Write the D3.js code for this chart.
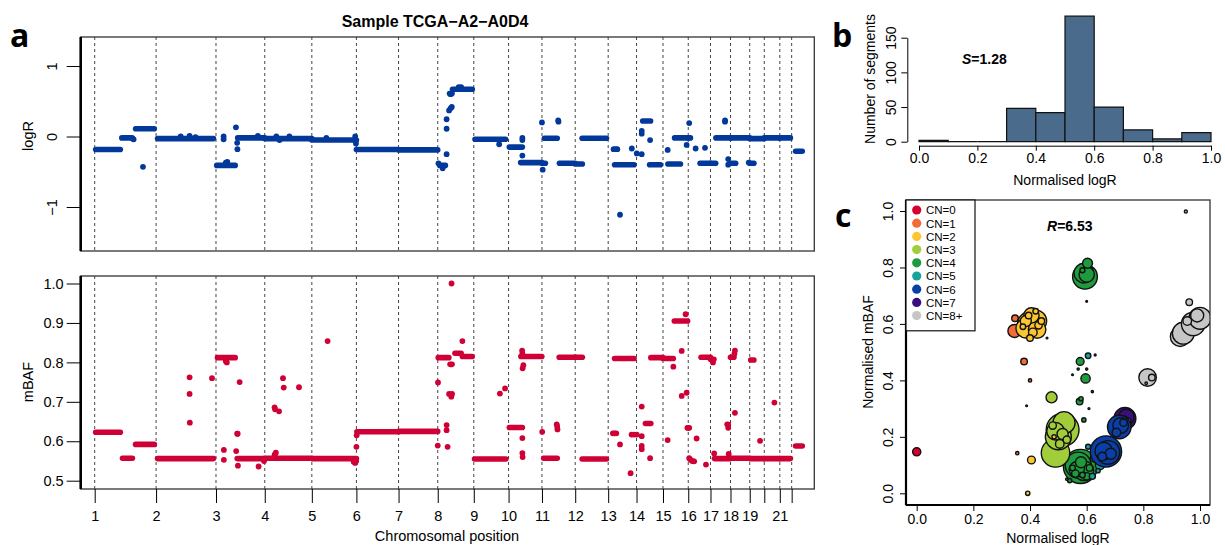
<!DOCTYPE html>
<html lang="en">
<head>
<meta charset="utf-8">
<title>Sample TCGA-A2-A0D4</title>
<style>
  body { margin: 0; background: #fff; }
  svg { display: block; }
  text { font-family: "Liberation Sans", Arial, sans-serif; fill: #000; }
</style>
</head>
<body>
<svg id="fig" width="1225" height="545"></svg>

<script src="https://d3js.org/d3.v7.min.js"></script>
<script>
// chromosome lengths (Mb, hg19) and the tick labels shown under them
const chromLen = [249.25, 243.20, 198.02, 191.15, 180.92, 171.12, 159.14, 146.36, 141.21, 135.53, 135.01,
  133.85, 115.17, 107.35, 102.53, 90.35, 81.20, 78.08, 59.13, 63.03, 48.13, 51.30];
const chromTickLabels = ['1', '2', '3', '4', '5', '6', '7', '8', '9', '10', '11', '12', '13', '14', '15',
  '16', '17', '18', '19', '', '21', ''];

// logR segments: [chrom, start Mb, end Mb, value]
const logRSegs = [
  [1, 4, 104, -0.185], [1, 110, 152, -0.02], [1, 166, 242, 0.11],
  [2, 6, 233, -0.03],
  [3, 3, 78, -0.41], [3, 88, 198, -0.02],
  [4, 0, 191, -0.03], [5, 0, 181, -0.05],
  [6, 0, 171, -0.185], [7, 0, 159, -0.19],
  [8, 8, 31, -0.41], [8, 48, 58, 0.61], [8, 60, 140, 0.67],
  [9, 5, 129, -0.04],
  [10, 3, 56, -0.15], [10, 49, 135, -0.37], [11, 0, 14, -0.38],
  [11, 10, 62, -0.025], [11, 71, 135, -0.38], [12, 0, 29, -0.39],
  [12, 28, 127, -0.025],
  [13, 26, 105, -0.40],
  [14, 25, 57, 0.22], [14, 53, 97, -0.40],
  [15, 20, 71, -0.39], [15, 47, 103, -0.02], [16, 0, 9, -0.02],
  [16, 48, 90, -0.38], [17, 0, 21, -0.38],
  [17, 22, 81, -0.02], [18, 0, 78, -0.02], [19, 0, 59, -0.03], [20, 0, 63, -0.02], [21, 0, 43, -0.02],
  [18, 2, 21, -0.38], [19, 0, 17, -0.38],
  [22, 16, 43, -0.21],
];
// single logR probes off the segments: [chrom, pos Mb, value]
const logRDots = [
  [1, 196, -0.43], [1, 154, -0.03], [1, 158, -0.04],
  [2, 100, 0.0], [2, 136, 0.01], [2, 160, -0.01],
  [3, 40, -0.37], [3, 46, -0.36], [3, 31, 0.0], [3, 31, -0.04], [3, 81, 0.13], [3, 86, -0.09], [3, 87, -0.18], [3, 170, 0.01],
  [4, 47, 0.0], [4, 100, 0.0], [4, 60, -0.05],
  [5, 59, -0.02], [5, 176, 0.0], [5, 178, -0.06], [5, 179, -0.1],
  [8, 3, -0.38], [8, 20, -0.45], [8, 36, -0.25], [8, 36, 0.11], [8, 36, 0.245], [8, 46, 0.37], [8, 52, 0.40],
  [8, 57, 0.42], [8, 85, 0.70], [8, 95, 0.70], [8, 52, 0.60],
  [9, 103, -0.11],
  [10, 56, -0.02], [10, 56, -0.05], [10, 56, -0.27],
  [11, 3, -0.47], [11, 0, 0.20], [11, 66, 0.23], [11, 67, 0.21],
  [13, 22, -0.18], [13, 30, -0.18], [13, 37, -0.18], [13, 48, -1.11], [13, 96, -0.17],
  [14, 1, -0.24], [14, 21, 0.08], [14, 21, 0.04], [14, 55, -0.05], [14, 21, -0.25],
  [15, 19, -0.19], [16, 4, 0.19], [15, 96, -0.12],
  [16, 30, -0.17], [16, 68, -0.16],
  [17, 59, 0.23], [17, 59, 0.21], [17, 72, -0.32], [17, 72, -0.40],
  [18, 74, -0.37],
];

// mBAF segments and single probes
const bafSegs = [
  [1, 4, 104, 0.623], [1, 113, 153, 0.557], [1, 166, 242, 0.592],
  [2, 6, 233, 0.556],
  [3, 6, 78, 0.812], [3, 86, 198, 0.556],
  [4, 0, 191, 0.557], [5, 0, 181, 0.556],
  [6, 2, 171, 0.624], [7, 0, 159, 0.625],
  [8, 2, 45, 0.812], [8, 50, 58, 0.795], [8, 70, 95, 0.823], [8, 100, 140, 0.815],
  [9, 3, 130, 0.555],
  [10, 3, 56, 0.635], [10, 50, 135, 0.815],
  [11, 7, 62, 0.557], [11, 70, 135, 0.813], [12, 0, 29, 0.813],
  [12, 28, 127, 0.555],
  [13, 26, 105, 0.810],
  [14, 36, 58, 0.645], [14, 58, 107, 0.812], [15, 0, 42, 0.81],
  [15, 46, 100, 0.905],
  [16, 52, 90, 0.813], [17, 0, 14, 0.808],
  [17, 16, 81, 0.556], [18, 0, 78, 0.557], [19, 0, 59, 0.556], [20, 0, 63, 0.556], [21, 0, 43, 0.556],
  [18, 0, 14, 0.813], [19, 4, 17, 0.806],
  [22, 16, 43, 0.588],
];
const bafDots = [
  [2, 136, 0.762], [2, 136, 0.720], [2, 137, 0.647], [2, 227, 0.760],
  [3, 40, 0.803], [3, 44, 0.800], [3, 96, 0.750], [3, 86, 0.619], [3, 88, 0.619], [3, 32, 0.578], [3, 32, 0.553],
  [3, 82, 0.575], [3, 89, 0.538], [3, 173, 0.536], [3, 195, 0.55],
  [4, 40, 0.686], [4, 42, 0.681], [4, 58, 0.676], [4, 74, 0.760], [4, 77, 0.736], [4, 139, 0.737], [4, 40, 0.566], [4, 45, 0.571],
  [5, 64, 0.854], [5, 170, 0.548], [5, 176, 0.545], [5, 180, 0.55],
  [6, 1, 0.615], [6, 0, 0.586],
  [8, 1, 0.749], [8, 36, 0.641], [8, 36, 0.628], [8, 0, 0.589], [8, 40, 0.586], [8, 46, 0.72], [8, 55, 0.713],
  [8, 58, 0.72], [8, 100, 0.854], [8, 56, 1.0],
  [9, 106, 0.721], [9, 127, 0.734],
  [10, 55, 0.83], [10, 56, 0.822], [10, 60, 0.793], [10, 57, 0.785], [10, 56, 0.608], [10, 56, 0.57], [10, 57, 0.56],
  [11, 1, 0.624], [11, 60, 0.643], [11, 62, 0.637], [11, 63, 0.630],
  [13, 19, 0.620], [13, 26, 0.62], [13, 33, 0.62], [13, 48, 0.592], [13, 91, 0.519], [13, 95, 0.617], [13, 105, 0.617], [14, 1, 0.617],
  [14, 21, 0.688], [14, 21, 0.613], [14, 21, 0.588], [14, 21, 0.58], [14, 55, 0.557],
  [15, 42, 0.789], [15, 76, 0.829], [15, 19, 0.603], [15, 76, 0.715], [15, 96, 0.723], [15, 92, 0.922],
  [16, 0, 0.634], [16, 4, 0.634], [15, 99, 0.634], [16, 34, 0.607], [16, 4, 0.557], [16, 10, 0.553], [16, 16, 0.55],
  [16, 24, 0.549], [16, 72, 0.541],
  [17, 10, 0.80], [17, 15, 0.569], [17, 72, 0.642], [17, 68, 0.643], [17, 72, 0.634], [18, 18, 0.672], [17, 74, 0.568],
  [18, 18, 0.83], [18, 16, 0.822],
  [19, 42, 0.601], [20, 41, 0.698],
];

// panel b histogram
const histBreaks = [0, 0.1, 0.2, 0.3, 0.4, 0.5, 0.6, 0.7, 0.8, 0.9, 1.0];
const histCounts = [2, 0, 0, 48, 42, 181, 50, 17, 4, 13];

// panel c: segments as [normalised logR, normalised mBAF, size Mb, copy number]
const cnLabels = ['CN=0', 'CN=1', 'CN=2', 'CN=3', 'CN=4', 'CN=5', 'CN=6', 'CN=7', 'CN=8+'];
const cnColours = ['#d5002c', '#f26b38', '#fcc630', '#a2cd3a', '#1e9b3c', '#17a39b', '#0a3fa7', '#3b0e7d', '#c6c6c6'];
const segPoints = [
  [0.0, 0.147, 11, 0],
  [0.345, 0.575, 28, 1], [0.347, 0.62, 7, 1], [0.379, 0.467, 7, 1], [0.355, 0.142, 1.8, 1], [0.40, 0.40, 1.8, 1],
  [0.40, 0.60, 100, 2], [0.42, 0.61, 78, 2], [0.385, 0.585, 63, 2], [0.425, 0.58, 50, 2], [0.405, 0.63, 38, 2],
  [0.385, 0.61, 20, 2], [0.41, 0.57, 12, 2], [0.43, 0.595, 9, 2], [0.395, 0.63, 7, 2], [0.42, 0.645, 5, 2],
  [0.40, 0.55, 7, 2], [0.375, 0.59, 5, 2], [0.44, 0.61, 7, 2], [0.405, 0.118, 10, 2], [0.392, 0.0, 3, 2],
  [0.388, 0.31, 0.5, 2], [0.46, 0.55, 0.5, 2],
  [0.476, 0.34, 20, 3],
  [0.578, 0.095, 190, 4], [0.57, 0.10, 110, 4], [0.59, 0.08, 63, 4], [0.565, 0.085, 38, 4], [0.58, 0.11, 20, 4],
  [0.56, 0.07, 9, 4], [0.60, 0.06, 9, 4], [0.585, 0.065, 5, 4], [0.55, 0.09, 5, 4], [0.61, 0.09, 7, 4],
  [0.54, 0.045, 3, 4], [0.53, 0.05, 1, 4],
  [0.515, 0.225, 176, 3], [0.49, 0.143, 132, 3], [0.50, 0.20, 110, 3], [0.52, 0.25, 80, 3], [0.49, 0.22, 50, 3],
  [0.515, 0.21, 20, 3], [0.505, 0.175, 12, 3], [0.48, 0.24, 9, 3], [0.53, 0.19, 9, 3], [0.485, 0.20, 3, 2],
  [0.594, 0.767, 100, 4], [0.59, 0.78, 63, 4], [0.60, 0.775, 38, 4], [0.603, 0.815, 16, 4], [0.585, 0.79, 4, 4],
  [0.577, 0.467, 10, 4], [0.596, 0.407, 14, 4], [0.575, 0.325, 7, 4], [0.59, 0.26, 3, 4], [0.58, 0.335, 3, 4],
  [0.63, 0.49, 0.6, 4], [0.60, 0.44, 0.8, 4], [0.57, 0.44, 0.8, 4], [0.62, 0.36, 0.8, 4], [0.60, 0.68, 0.5, 4],
  [0.55, 0.42, 0.5, 4], [0.608, 0.30, 0.6, 4],
  [0.605, 0.487, 5, 5], [0.647, 0.10, 14, 5], [0.627, 0.125, 10, 5], [0.605, 0.165, 4, 5], [0.62, 0.06, 6, 5], [0.64, 0.08, 3, 5],
  [0.735, 0.265, 78, 7], [0.74, 0.27, 40, 7], [0.73, 0.26, 12, 7], [0.745, 0.255, 6, 8],
  [0.715, 0.235, 90, 6], [0.72, 0.24, 40, 6], [0.705, 0.215, 12, 6], [0.73, 0.25, 9, 6],
  [0.668, 0.148, 160, 6], [0.675, 0.145, 90, 6], [0.66, 0.15, 50, 6], [0.685, 0.14, 20, 6], [0.655, 0.13, 12, 6],
  [0.93, 0.555, 63, 8], [0.941, 0.567, 78, 8], [0.976, 0.60, 90, 8], [1.0, 0.62, 78, 8], [0.955, 0.61, 12, 8],
  [0.99, 0.63, 28, 8], [0.815, 0.41, 50, 8], [0.83, 0.41, 7, 8], [0.962, 0.677, 7, 8], [0.95, 0.998, 1.5, 8],
  [0.81, 0.39, 1, 8],
];

const svg = d3.select('#fig');
const font = '"Liberation Sans", Arial, sans-serif';

// ---------- panel a ----------
const boxA = { x0: 80.7, x1: 814.3 };
const topY = [37, 251];
const botY = [276, 489];
const chromStart = [0, ...d3.cumsum(chromLen)].slice(0, chromLen.length);
const gpos = (c, mb) => chromStart[c - 1] + mb;

const xA = d3.scaleLinear().domain([0, d3.sum(chromLen)]).range([94.7, 804.3]);
const yR = d3.scaleLinear().domain([-1, 1]).range([207, 66]);
const yB = d3.scaleLinear().domain([0.5, 1]).range([480.7, 283.5]);

const defs = svg.append('defs');
[['clipTop', topY], ['clipBot', botY]].forEach(([id, ys]) => {
  defs.append('clipPath').attr('id', id).append('rect')
    .attr('x', boxA.x0).attr('y', ys[0]).attr('width', boxA.x1 - boxA.x0).attr('height', ys[1] - ys[0]);
});

function drawTrack(ys, clipId, y, segs, dots, colour) {
  const g = svg.append('g').attr('clip-path', `url(#${clipId})`);
  g.selectAll('line.chr').data(chromStart).join('line')
    .attr('x1', d => xA(d)).attr('x2', d => xA(d))
    .attr('y1', ys[0]).attr('y2', ys[1])
    .attr('stroke', '#444').attr('stroke-width', 1).attr('stroke-dasharray', '3,3');
  g.selectAll('line.seg').data(segs).join('line')
    .attr('x1', d => xA(gpos(d[0], d[1]))).attr('x2', d => xA(gpos(d[0], d[2])))
    .attr('y1', d => y(d[3])).attr('y2', d => y(d[3]))
    .attr('stroke', colour).attr('stroke-width', 5.6).attr('stroke-linecap', 'round');
  g.selectAll('circle').data(dots).join('circle')
    .attr('cx', d => xA(gpos(d[0], d[1]))).attr('cy', d => y(d[2]))
    .attr('r', 2.9).attr('fill', colour);
  // frame, heavier on the left
  svg.append('rect').attr('x', boxA.x0).attr('y', ys[0])
    .attr('width', boxA.x1 - boxA.x0).attr('height', ys[1] - ys[0])
    .attr('fill', 'none').attr('stroke', '#333').attr('stroke-width', 1.3);
  svg.append('line').attr('x1', boxA.x0).attr('x2', boxA.x0).attr('y1', ys[0]).attr('y2', ys[1])
    .attr('stroke', '#000').attr('stroke-width', 2.6);
}
drawTrack(topY, 'clipTop', yR, logRSegs, logRDots, '#03389b');
drawTrack(botY, 'clipBot', yB, bafSegs, bafDots, '#cf0035');

function styleAxis(g, size) {
  g.attr('font-family', font).attr('font-size', size);
  g.selectAll('.tick line').attr('stroke', '#000');
  g.selectAll('.tick text').attr('fill', '#000');
}

const axTop = svg.append('g').attr('transform', `translate(${boxA.x0},0)`)
  .call(d3.axisLeft(yR).tickValues([-1, 0, 1]).tickSize(14).tickFormat(d3.format('d')));
axTop.select('.domain').remove();
styleAxis(axTop, 14.5);
axTop.selectAll('.tick text').attr('x', 0).attr('dy', 0)
  .attr('text-anchor', 'middle').attr('transform', 'translate(-24,0) rotate(-90)');

const axBaf = svg.append('g').attr('transform', `translate(${boxA.x0},0)`)
  .call(d3.axisLeft(yB).tickValues([0.5, 0.6, 0.7, 0.8, 0.9, 1.0]).tickSize(14).tickPadding(3).tickFormat(d3.format('.1f')));
axBaf.select('.domain').remove();
styleAxis(axBaf, 14.5);

const axChr = svg.append('g').attr('transform', `translate(0,${botY[1]})`)
  .call(d3.axisBottom(xA).tickValues(chromStart).tickSize(14).tickPadding(8)
    .tickFormat((d, i) => chromTickLabels[i]));
axChr.select('.domain').remove();
styleAxis(axChr, 14.5);

svg.append('text').attr('x', 435).attr('y', 27).attr('text-anchor', 'middle')
  .attr('font-size', 16).attr('font-weight', 'bold').text('Sample TCGA\u2212A2\u2212A0D4');
svg.append('text').attr('transform', 'translate(33,136) rotate(-90)').attr('text-anchor', 'middle')
  .attr('font-size', 14.5).text('logR');
svg.append('text').attr('transform', 'translate(33,382) rotate(-90)').attr('text-anchor', 'middle')
  .attr('font-size', 14.5).text('mBAF');
svg.append('text').attr('x', 447).attr('y', 541).attr('text-anchor', 'middle')
  .attr('font-size', 14.5).text('Chromosomal position');

// panel letters
[['a', 10, 47], ['b', 832, 47], ['c', 835, 227]].forEach(([t, x, y]) => {
  svg.append('text').attr('x', x).attr('y', y)
    .attr('font-weight', 'bold').attr('font-size', 32).style('font-family', '"Open Sans", sans-serif').text(t);
});

// ---------- panel b ----------
const xH = d3.scaleLinear().domain([0, 1]).range([919, 1211]);
const yH = d3.scaleLinear().domain([0, 150]).range([141.7, 37.7]);
const bins = histCounts.map((c, i) => ({ x0: histBreaks[i], x1: histBreaks[i + 1], n: c }));
svg.append('g').selectAll('path').data(bins).join('path')
  .attr('d', d => `M${xH(d.x0)},${yH(0)}V${yH(d.n)}H${xH(d.x1)}V${yH(0)}Z`)
  .attr('fill', '#4a6b8b').attr('stroke', '#111').attr('stroke-width', 1.2);

const axHx = svg.append('g').attr('transform', 'translate(0,145.7)')
  .call(d3.axisBottom(xH).tickValues(histBreaks.filter((d, i) => i % 2 === 0)).tickSize(5).tickSizeOuter(0)
    .tickPadding(2).tickFormat(d3.format('.1f')));
styleAxis(axHx, 14);
axHx.select('.domain').attr('stroke', '#000');
const axHy = svg.append('g').attr('transform', 'translate(907.3,0)')
  .call(d3.axisLeft(yH).tickValues([0, 50, 100, 150]).tickSize(6).tickSizeOuter(0));
styleAxis(axHy, 14);
axHy.select('.domain').attr('stroke', '#000');
axHy.selectAll('.tick text').attr('x', 0).attr('dy', 0)
  .attr('text-anchor', 'middle').attr('transform', 'translate(-11,0) rotate(-90)');
svg.append('text').attr('transform', 'translate(875,79) rotate(-90)').attr('text-anchor', 'middle')
  .attr('font-size', 14).text('Number of segments');
svg.append('text').attr('x', 1065).attr('y', 185).attr('text-anchor', 'middle')
  .attr('font-size', 14).text('Normalised logR');
const sLab = svg.append('text').attr('x', 962).attr('y', 64).attr('font-size', 14).attr('font-weight', 'bold');
sLab.append('tspan').attr('font-style', 'italic').text('S');
sLab.append('tspan').text('=1.28');

// ---------- panel c ----------
const boxC = { x0: 906, x1: 1210, y0: 200, y1: 505 };
const xC = d3.scaleLinear().domain([0, 1]).range([916.7, 1200]);
const yC = d3.scaleLinear().domain([0, 1]).range([493.3, 211]);
const rC = d3.scaleSqrt().domain([0, 200]).range([0, 17.5]);

defs.append('clipPath').attr('id', 'clipC').append('rect')
  .attr('x', boxC.x0).attr('y', boxC.y0).attr('width', boxC.x1 - boxC.x0).attr('height', boxC.y1 - boxC.y0);
svg.append('g').attr('clip-path', 'url(#clipC)')
  .selectAll('circle').data(segPoints).join('circle')
  .attr('cx', d => xC(d[0])).attr('cy', d => yC(d[1])).attr('r', d => rC(d[2]))
  .attr('fill', d => cnColours[d[3]]).attr('stroke', '#111').attr('stroke-width', 1.4);

svg.append('rect').attr('x', boxC.x0).attr('y', boxC.y0)
  .attr('width', boxC.x1 - boxC.x0).attr('height', boxC.y1 - boxC.y0)
  .attr('fill', 'none').attr('stroke', '#333').attr('stroke-width', 1.3);
svg.append('line').attr('x1', boxC.x0).attr('x2', boxC.x0).attr('y1', boxC.y0).attr('y2', boxC.y1)
  .attr('stroke', '#000').attr('stroke-width', 2.2);
svg.append('line').attr('x1', boxC.x0).attr('x2', boxC.x1).attr('y1', boxC.y1).attr('y2', boxC.y1)
  .attr('stroke', '#000').attr('stroke-width', 2.2);

const cTicks = [0, 0.2, 0.4, 0.6, 0.8, 1.0];
const axCx = svg.append('g').attr('transform', `translate(0,${boxC.y1})`)
  .call(d3.axisBottom(xC).tickValues(cTicks).tickSize(6).tickPadding(3).tickFormat(d3.format('.1f')));
axCx.select('.domain').remove();
styleAxis(axCx, 14);
const axCy = svg.append('g').attr('transform', `translate(${boxC.x0},0)`)
  .call(d3.axisLeft(yC).tickValues(cTicks).tickSize(6).tickFormat(d3.format('.1f')));
axCy.select('.domain').remove();
styleAxis(axCy, 14);
axCy.selectAll('.tick text').attr('x', 0).attr('dy', 0)
  .attr('text-anchor', 'middle').attr('transform', 'translate(-13,0) rotate(-90)');
svg.append('text').attr('transform', `translate(873,352) rotate(-90)`).attr('text-anchor', 'middle')
  .attr('font-size', 14).text('Normalised mBAF');
svg.append('text').attr('x', 1058).attr('y', 543).attr('text-anchor', 'middle')
  .attr('font-size', 14).text('Normalised logR');
const rLab = svg.append('text').attr('x', 1047).attr('y', 231).attr('font-size', 14).attr('font-weight', 'bold');
rLab.append('tspan').attr('font-style', 'italic').text('R');
rLab.append('tspan').text('=6.53');

// legend
const rowGap = 13.2;
const leg = svg.append('g');
leg.append('rect').attr('x', boxC.x0).attr('y', boxC.y0).attr('width', 69).attr('height', 12 + rowGap * cnLabels.length)
  .attr('fill', '#fff').attr('stroke', '#111').attr('stroke-width', 1.2);
const rows = leg.selectAll('g.row').data(cnLabels).join('g')
  .attr('transform', (d, i) => `translate(0,${210 + i * rowGap})`);
rows.append('circle').attr('cx', 916.7).attr('cy', 0).attr('r', 4.6).attr('fill', (d, i) => cnColours[i]);
rows.append('text').attr('x', 926).attr('y', 4.3).attr('font-size', 11.5).text(d => d);
</script>
</body>
</html>
